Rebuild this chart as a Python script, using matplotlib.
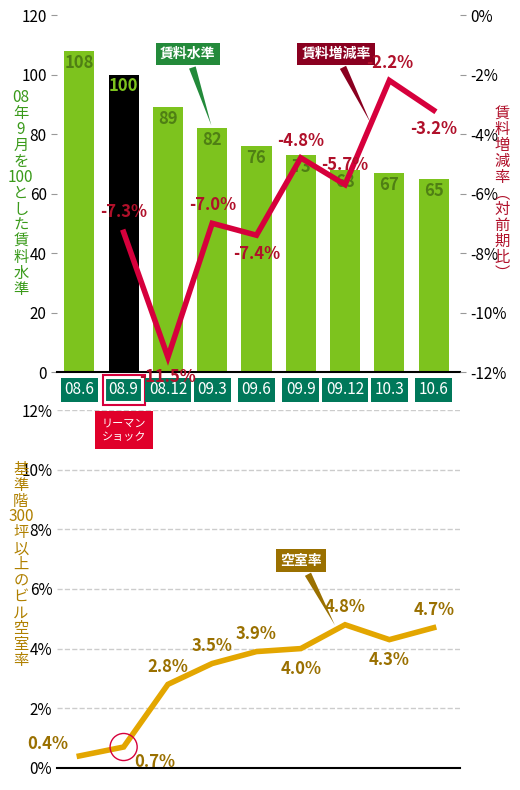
import matplotlib
matplotlib.use("Agg")
import matplotlib.pyplot as plt

plt.rcParams['font.family'] = ['Liberation Sans Narrow', 'Noto Sans CJK JP', 'DejaVu Sans']

periods = ["08.6", "08.9", "08.12", "09.3", "09.6", "09.9", "09.12", "10.3", "10.6"]
rent_level = [108, 100, 89, 82, 76, 73, 68, 67, 65]
rent_change = [None, -7.3, -11.5, -7.0, -7.4, -4.8, -5.7, -2.2, -3.2]
vacancy = [0.4, 0.7, 2.8, 3.5, 3.9, 4.0, 4.8, 4.3, 4.7]

GREEN = "#7dc31e"
DGREEN = "#4f7f14"
TEAL = "#00785a"
RED = "#d6003c"
DRED = "#b0102a"
GOLD = "#e3a600"
DGOLD = "#9a7000"

fig = plt.figure(figsize=(5.2, 7.9), dpi=100)

# bottom chart first (so top axes overlays it)
bx = fig.add_axes([0.11, 0.028, 0.775, 0.453])
bx.patch.set_visible(False)
bx.plot(range(len(vacancy)), vacancy, color=GOLD, lw=4, zorder=3, solid_joinstyle='miter')
bx.set_xlim(-0.5, 8.6)
bx.set_ylim(0, 12)
bx.set_yticks(range(0, 13, 2))
bx.set_yticklabels([f"{t}%" for t in range(0, 13, 2)])
bx.tick_params(axis='y', length=0, labelsize=11)
bx.set_xticks([])
bx.grid(axis='y', ls='--', color='#cccccc', lw=1)
for s in ['top', 'right', 'left']:
    bx.spines[s].set_visible(False)
bx.spines['bottom'].set_linewidth(1.5)
voffs = [(-8, 2), (8, -4), (0, 6), (0, 6), (0, 6), (0, -8), (0, 6), (0, -8), (0, 6)]
for i, v in enumerate(vacancy):
    dx, dy = voffs[i]
    bx.annotate(f"{v}%", (i, v), xytext=(dx, dy), textcoords='offset points',
                ha='center' if dx == 0 else ('right' if dx < 0 else 'left'),
                va='bottom' if dy > 0 else 'top', fontsize=12, fontweight='bold', color=DGOLD)
bx.scatter([1], [vacancy[1]], s=380, facecolors='none', edgecolors=RED, lw=1, zorder=5)
bx.annotate("空室率", xy=(5.8, 4.7), xytext=(5.0, 6.95), color='white', fontsize=10,
            fontweight='bold', ha='center', va='center',
            bbox=dict(boxstyle='square,pad=0.3', fc='#9a7000', ec='none'),
            arrowprops=dict(arrowstyle='wedge,tail_width=0.5', fc='#9a7000', ec='none'))
fig.text(0.04, 0.285, "基\n準\n階\n300\n坪\n以\n上\nの\nビ\nル\n空\n室\n率", color="#b08000",
         fontsize=11, linespacing=0.92, ha='center', va='center')

ax = fig.add_axes([0.11, 0.529, 0.775, 0.452])
ax.patch.set_visible(False)
x = list(range(len(periods)))
colors = [GREEN if i != 1 else "black" for i in x]
ax.bar(x, rent_level, width=0.68, color=colors, zorder=2)
for i, v in enumerate(rent_level):
    ax.text(i, v - 1, str(v), ha='center', va='top', fontsize=12, fontweight='bold',
            color=DGREEN if i != 1 else GREEN, zorder=3)
ax.set_xlim(-0.5, 8.6)
ax.set_ylim(0, 120)
ax.set_yticks(range(0, 121, 20))
ax.tick_params(axis='y', length=4, colors='#999999', labelcolor='black', labelsize=11)
ax.set_xticks([])
for s in ['top', 'right', 'left']:
    ax.spines[s].set_visible(False)
ax.spines['bottom'].set_linewidth(1.5)
fig.text(0.04, 0.755, "08\n年\n9\n月\nを\n100\nと\nし\nた\n賃\n料\n水\n準", color="#3a9a1a",
         fontsize=11, linespacing=0.92, ha='center', va='center')

ax2 = ax.twinx()
xs = [i for i in x if rent_change[i] is not None]
ys = [rent_change[i] for i in xs]
ax2.plot(xs, ys, color=RED, lw=4, zorder=4, solid_joinstyle='miter')
ax2.set_ylim(-12, 0)
ax2.set_yticks(range(-12, 1, 2))
ax2.set_yticklabels([f"{t}%" for t in range(-12, 1, 2)])
ax2.tick_params(axis='y', length=4, colors='#999999', labelcolor='black', labelsize=11)
for s in ['top', 'right', 'left', 'bottom']:
    ax2.spines[s].set_visible(False)
offs = {1: (0, 8), 2: (0, -8), 3: (0, 7), 4: (0, -7), 5: (0, 6), 6: (0, 8), 7: (0, 6), 8: (0, -7)}
for xi, yi in zip(xs, ys):
    dx, dy = offs[xi]
    ax2.annotate(f"{yi}%", (xi, yi), xytext=(dx, dy), textcoords='offset points',
                 ha='center', va='bottom' if dy > 0 else 'top', fontsize=12,
                 fontweight='bold', color=DRED, zorder=5)
fig.text(0.965, 0.755, "賃\n料\n増\n減\n率\n︵\n対\n前\n期\n比\n︶", color=DRED,
         fontsize=11, linespacing=0.92, ha='center', va='center')

ax.annotate("賃料水準", xy=(3.0, 82), xytext=(2.45, 107), color='white', fontsize=10,
            fontweight='bold', ha='center', va='center',
            bbox=dict(boxstyle='square,pad=0.3', fc='#238a3a', ec='none'),
            arrowprops=dict(arrowstyle='wedge,tail_width=0.5', fc='#238a3a', ec='none'))
ax.annotate("賃料増減率", xy=(6.6, 83), xytext=(5.8, 107), color='white', fontsize=10,
            fontweight='bold', ha='center', va='center',
            bbox=dict(boxstyle='square,pad=0.3', fc='#8a0020', ec='none'),
            arrowprops=dict(arrowstyle='wedge,tail_width=0.5', fc='#8a0020', ec='none'))

for i, p in enumerate(periods):
    if i == 1:
        ax.text(i, -6, p, ha='center', va='center', fontsize=11, color='white',
                bbox=dict(boxstyle='square,pad=0.25', fc=TEAL, ec='white', lw=1.5), clip_on=False)
        ax.text(i, -6, p, ha='center', va='center', fontsize=11, alpha=0,
                bbox=dict(boxstyle='square,pad=0.4', fc='none', ec=RED, lw=1.5), clip_on=False)
        ax.text(i, -19.5, "リーマン\nショック", ha='center', va='center', fontsize=8,
                color='white', linespacing=1.5, zorder=10,
                bbox=dict(boxstyle='square,pad=0.6', fc='#e0002a', ec='none'), clip_on=False)
    else:
        ax.text(i, -6, p, ha='center', va='center', fontsize=11, color='white',
                bbox=dict(boxstyle='square,pad=0.25', fc=TEAL, ec='none'), clip_on=False)

fig.savefig("out.png", dpi=100)
